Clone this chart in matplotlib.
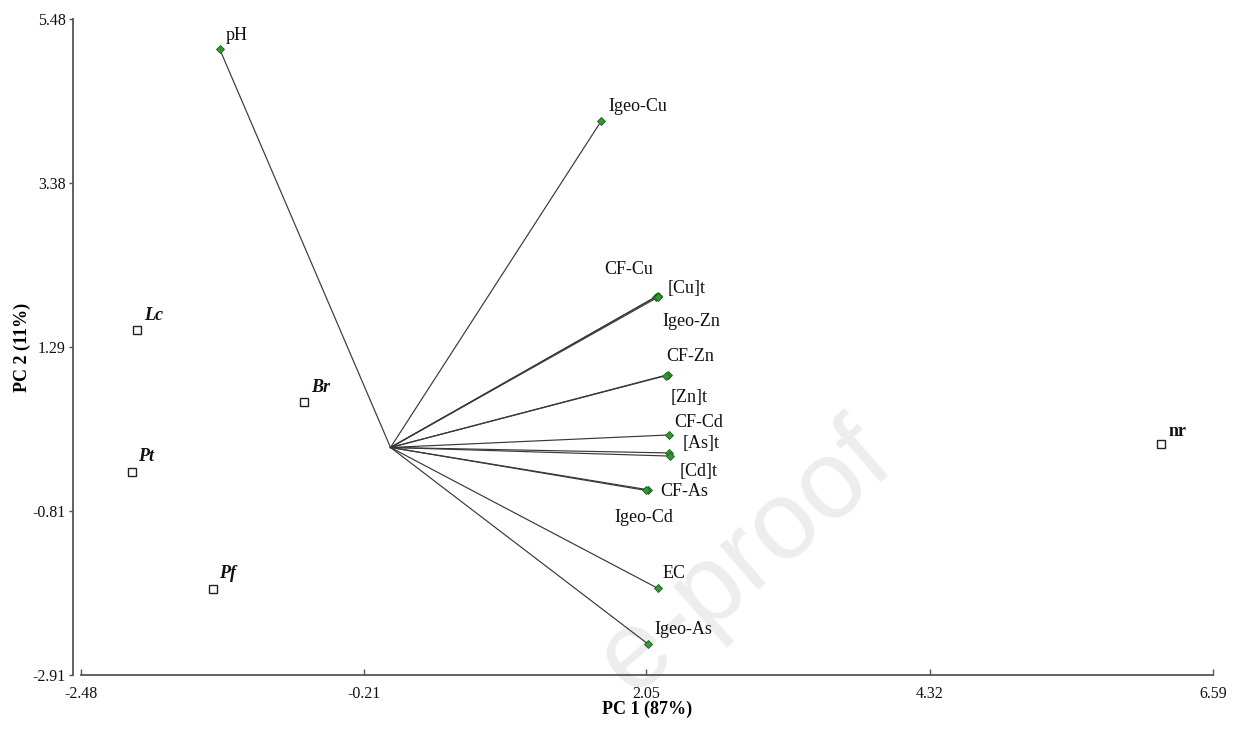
import matplotlib
matplotlib.use("Agg")
import matplotlib.pyplot as plt

# PCA biplot: variable loadings (vectors) and sample scores (open squares)

# Variable names and vector end points (PC1, PC2)
varNames = ["pH", "Igeo-Cu", "CF-Cu", "[Cu]t", "Igeo-Zn", "CF-Zn", "[Zn]t",
            "CF-Cd", "[As]t", "[Cd]t", "CF-As", "Igeo-Cd", "EC", "Igeo-As"]
varPC1 = [-1.37, 1.69, 2.13, 2.14, 2.14, 2.22, 2.21,
          2.23, 2.23, 2.24, 2.06, 2.05, 2.14, 2.06]
varPC2 = [5.10, 4.18, 1.93, 1.94, 1.92, 0.93, 0.92,
          0.16, -0.07, -0.11, -0.54, -0.55, -1.80, -2.51]

# Sample names and scores
sampleNames = ["Lc", "Br", "Pt", "Pf", "nr"]
samplePC1 = [-2.03, -0.69, -2.07, -1.42, 6.17]
samplePC2 = [1.50, 0.58, -0.31, -1.81, 0.05]

# Axis ticks
xTicks = [-2.48, -0.21, 2.05, 4.32, 6.59]
yTicks = [-2.91, -0.81, 1.29, 3.38, 5.48]

# Label offsets in pixels (layout only)
varOffsets = [(6, 13), (7, 14), (-52, 27), (10, 7), (5, -24), (-1, 18), (4, -22),
              (5, 12), (14, 9), (10, -15), (13, -2), (-32, -27), (5, 15), (7, 14)]
sampleOffsets = [(7, 15), (7, 15), (6, 15), (6, 15), (8, 12)]
sampleStyles = ["italic", "italic", "italic", "italic", "normal"]

serif = "Liberation Serif"

fig = plt.figure(figsize=(12.42, 7.36), dpi=100)
ax = fig.add_axes([81 / 1242, 1 - 675 / 736, (1213 - 81) / 1242, (675 - 19) / 736])

# Detached axis lines like the original software (set before ticks, it resets them)
for side in ["top", "right"]:
    ax.spines[side].set_visible(False)
for side in ["left", "bottom"]:
    ax.spines[side].set_color("#555555")
    ax.spines[side].set_linewidth(1.3)
ax.spines["left"].set_position(("outward", 6))

# Watermark in the background
ax.text(0.6, 0.24, "e-proof", fontsize=80, family="Liberation Sans",
        color="#ededed", rotation=41, ha="center", va="center", zorder=0,
        transform=fig.transFigure, clip_on=False)

# Vectors from the origin
for name, x, y, off in zip(varNames, varPC1, varPC2, varOffsets):
    ax.plot([0, x], [0, y], color="#383838", lw=0.85, zorder=2)
    ax.plot(x, y, marker="D", ms=3.6, color="#2f9a2f", mec="#1c5c1c", mew=0.6, zorder=3)
    ax.annotate(name, (x, y), xytext=off, textcoords="offset pixels",
                ha="left", va="center", fontsize=13, family=serif, color="#111111")

# Samples
ax.plot(samplePC1, samplePC2, ls="none", marker="s", ms=5.5, mfc="white",
        mec="#222222", mew=1.0, zorder=3)
for name, x, y, off, st in zip(sampleNames, samplePC1, samplePC2, sampleOffsets, sampleStyles):
    ax.annotate(name, (x, y), xytext=off, textcoords="offset pixels",
                ha="left", va="center", fontsize=13, family=serif,
                fontweight="bold", fontstyle=st, color="#111111")

ax.set_xlim(xTicks[0], xTicks[-1])
ax.set_ylim(yTicks[0], yTicks[-1])
ax.set_xticks(xTicks)
ax.set_yticks(yTicks)
ax.set_xticklabels(["%.2f" % t for t in xTicks], family=serif, fontsize=11.5)
ax.set_yticklabels(["%.2f" % t for t in yTicks], family=serif, fontsize=11.5)
ax.tick_params(axis="x", direction="in", length=4, width=1, colors="#555555",
               labelcolor="#111111", pad=8)
ax.tick_params(axis="y", direction="out", length=3, width=1, colors="#555555",
               labelcolor="#111111", pad=2)

ax.set_xlabel("PC 1 (87%)", family=serif, fontsize=13, fontweight="bold", va="center")
ax.set_ylabel("PC 2 (11%)", family=serif, fontsize=13, fontweight="bold", va="center")
ax.xaxis.set_label_coords(0.5, -0.053)
ax.yaxis.set_label_coords(-0.052, 0.5)
ax.patch.set_alpha(0)

fig.savefig("out.png", dpi=100)
